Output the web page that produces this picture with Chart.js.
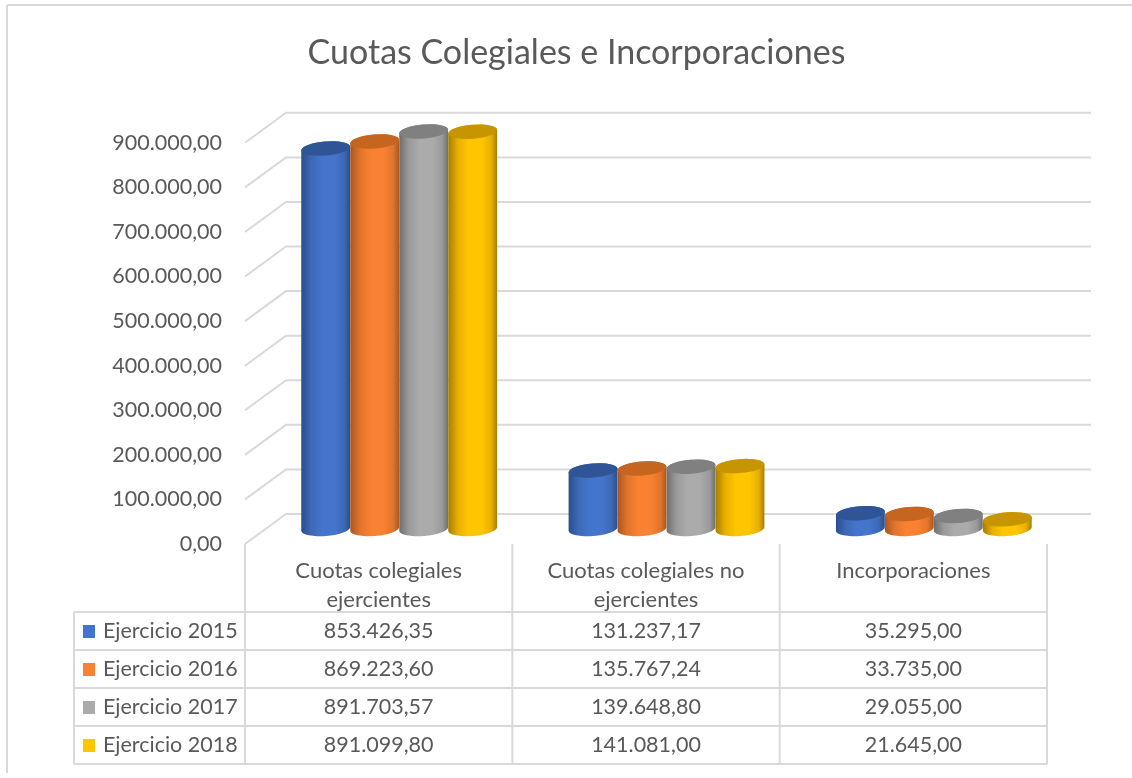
<!DOCTYPE html>
<html>
<head>
<meta charset="utf-8">
<title>Cuotas Colegiales e Incorporaciones</title>
<script src="https://cdn.jsdelivr.net/npm/chart.js@4"></script>
<style>
    html, body { margin: 0; padding: 0; background: #fff; }
    canvas { display: block; }
</style>
</head>
<body>
<canvas id="cuotas" width="1132" height="778"></canvas>
<script>
const categories = [
    ['Cuotas colegiales', 'ejercientes'],
    ['Cuotas colegiales no', 'ejercientes'],
    ['Incorporaciones']
];
const seriesNames = ['Ejercicio 2015', 'Ejercicio 2016', 'Ejercicio 2017', 'Ejercicio 2018'];
const ejercicio2015 = [853426.35, 131237.17, 35295.00];
const ejercicio2016 = [869223.60, 135767.24, 33735.00];
const ejercicio2017 = [891703.57, 139648.80, 29055.00];
const ejercicio2018 = [891099.80, 141081.00, 21645.00];
const seriesValues = [ejercicio2015, ejercicio2016, ejercicio2017, ejercicio2018];

const fontFamily = 'Lato, "Open Sans", sans-serif';
const textColor = '#595959';
const lineColor = '#d9d9d9';

// edge, centre and top-cap colours of each cylinder
const palettes = [
    { edge: '#2b4d8c', soft: '#3d68b5', mid: '#4475cc', top: '#2f5597' },
    { edge: '#a9571f', soft: '#e0742c', mid: '#f98132', top: '#c5651f' },
    { edge: '#6e6e6e', soft: '#9a9a9a', mid: '#ababab', top: '#808080' },
    { edge: '#a67d00', soft: '#e8b000', mid: '#ffc600', top: '#c69500' }
];

// how far the back wall sits behind the axis plane, bars stand half way
const depthX = 41;
const depthY = -30;
const capRy = 7;
const capTilt = -0.08;

const rowLines = [612, 650, 688, 726, 764];
const tableLeft = 74;
const borderTop = 5;
const borderLeft = 7;

const fmt = v => v.toLocaleString('es-ES', { minimumFractionDigits: 2, maximumFractionDigits: 2, useGrouping: true });

const segment = (ctx, x1, y1, x2, y2) => {
    ctx.beginPath();
    ctx.moveTo(x1, y1);
    ctx.lineTo(x2, y2);
    ctx.stroke();
};

const drawCylinder = (ctx, x, width, top, base, pal) => {
    const rx = width / 2;
    const grad = ctx.createLinearGradient(x - rx, 0, x + rx, 0);
    grad.addColorStop(0, pal.edge);
    grad.addColorStop(0.2, pal.soft);
    grad.addColorStop(0.42, pal.mid);
    grad.addColorStop(0.68, pal.mid);
    grad.addColorStop(0.88, pal.soft);
    grad.addColorStop(1, pal.edge);

    ctx.fillStyle = grad;
    ctx.beginPath();
    ctx.ellipse(x, base, rx, capRy, capTilt, 0, Math.PI);
    ctx.ellipse(x, top, rx, capRy, capTilt, Math.PI, 0);
    ctx.closePath();
    ctx.fill();

    ctx.fillStyle = pal.top;
    ctx.beginPath();
    ctx.ellipse(x, top, rx, capRy, capTilt, 0, Math.PI * 2);
    ctx.fill();
};

const pluginFrame = {
    id: 'frame',
    beforeDraw(chart) {
        const { ctx, width, height } = chart;
        ctx.save();
        ctx.strokeStyle = lineColor;
        ctx.lineWidth = 2;
        segment(ctx, borderLeft, borderTop, width, borderTop);
        segment(ctx, borderLeft, borderTop, borderLeft, height - 5);
        ctx.restore();
    }
};

const pluginBackWall = {
    id: 'backWall',
    beforeDatasetsDraw(chart) {
        const { ctx, chartArea, scales: { y } } = chart;
        ctx.save();
        ctx.strokeStyle = lineColor;
        ctx.lineWidth = 2;
        y.ticks.forEach(tick => {
            const py = y.getPixelForValue(tick.value);
            ctx.beginPath();
            ctx.moveTo(chartArea.left, py);
            ctx.lineTo(chartArea.left + depthX, py + depthY);
            ctx.lineTo(chartArea.right + depthX + 3, py + depthY);
            ctx.stroke();
        });
        ctx.restore();
    }
};

// bars come from the library's own elements, only the painting is replaced
const pluginCylinders = {
    id: 'cylinders',
    beforeDatasetDraw(chart, args) {
        const { ctx } = chart;
        const pal = palettes[args.index];
        ctx.save();
        args.meta.data.forEach(bar => {
            const { x, y, base, width } = bar.getProps(['x', 'y', 'base', 'width'], true);
            drawCylinder(ctx, x + depthX / 2, width, y + depthY / 2, base + depthY / 2, pal);
        });
        ctx.restore();
        return false;
    }
};

const pluginDataTable = {
    id: 'dataTable',
    afterDraw(chart) {
        const { ctx, chartArea, scales: { x } } = chart;
        const columnEdge = i => x.getPixelForTick(i) - (x.getPixelForTick(1) - x.getPixelForTick(0)) / 2;

        ctx.save();
        ctx.strokeStyle = lineColor;
        ctx.lineWidth = 2;
        rowLines.forEach(py => segment(ctx, tableLeft, py, chartArea.right, py));
        segment(ctx, tableLeft, rowLines[0], tableLeft, rowLines[rowLines.length - 1]);
        categories.forEach((c, i) => {
            const px = columnEdge(i);
            segment(ctx, px, chartArea.bottom, px, rowLines[rowLines.length - 1]);
        });
        segment(ctx, chartArea.right, chartArea.bottom, chartArea.right, rowLines[rowLines.length - 1]);

        ctx.font = `21.5px ${fontFamily}`;
        ctx.textBaseline = 'middle';
        seriesNames.forEach((name, r) => {
            const midY = (rowLines[r] + rowLines[r + 1]) / 2;
            ctx.fillStyle = palettes[r].mid;
            ctx.fillRect(83, midY - 6, 12, 13);
            ctx.fillStyle = textColor;
            ctx.textAlign = 'left';
            ctx.fillText(name, 103, midY);
            ctx.textAlign = 'center';
            seriesValues[r].forEach((v, c) => ctx.fillText(fmt(v), x.getPixelForTick(c), midY));
        });
        ctx.restore();
    }
};

new Chart(document.getElementById('cuotas'), {
    type: 'bar',
    data: {
        labels: categories,
        datasets: seriesNames.map((name, i) => ({
            label: name,
            data: seriesValues[i],
            backgroundColor: palettes[i].mid,
            categoryPercentage: 0.733,
            barPercentage: 1
        }))
    },
    plugins: [pluginFrame, pluginBackWall, pluginCylinders, pluginDataTable],
    options: {
        responsive: false,
        animation: false,
        layout: { padding: { left: 21, right: 0, top: 0, bottom: 0 } },
        scales: {
            x: {
                grid: { display: false, drawTicks: false },
                border: { display: false },
                afterFit: scale => { scale.height = 234; },
                ticks: {
                    autoSkip: false,
                    maxRotation: 0,
                    padding: 12,
                    color: textColor,
                    font: { family: fontFamily, size: 22, lineHeight: 1.32 }
                }
            },
            y: {
                min: 0,
                max: 900000,
                grid: { display: false, drawTicks: false },
                border: { display: false },
                afterFit: scale => { scale.width = 224; },
                ticks: {
                    stepSize: 100000,
                    padding: 23,
                    color: textColor,
                    font: { family: fontFamily, size: 21.5 },
                    callback: value => fmt(value)
                }
            },
            // only reserves the space right of the table, so the title stays centred on the frame
            spacer: {
                type: 'linear',
                position: 'right',
                grid: { display: false, drawTicks: false },
                border: { display: false },
                ticks: { display: false },
                afterFit: scale => { scale.width = 85; }
            }
        },
        plugins: {
            legend: { display: false },
            tooltip: { enabled: false },
            title: {
                display: true,
                text: 'Cuotas Colegiales e Incorporaciones',
                color: textColor,
                font: { family: fontFamily, size: 34, weight: 'normal', lineHeight: 1.2 },
                padding: { top: 33, bottom: 69 }
            }
        }
    }
});
</script>
</body>
</html>
